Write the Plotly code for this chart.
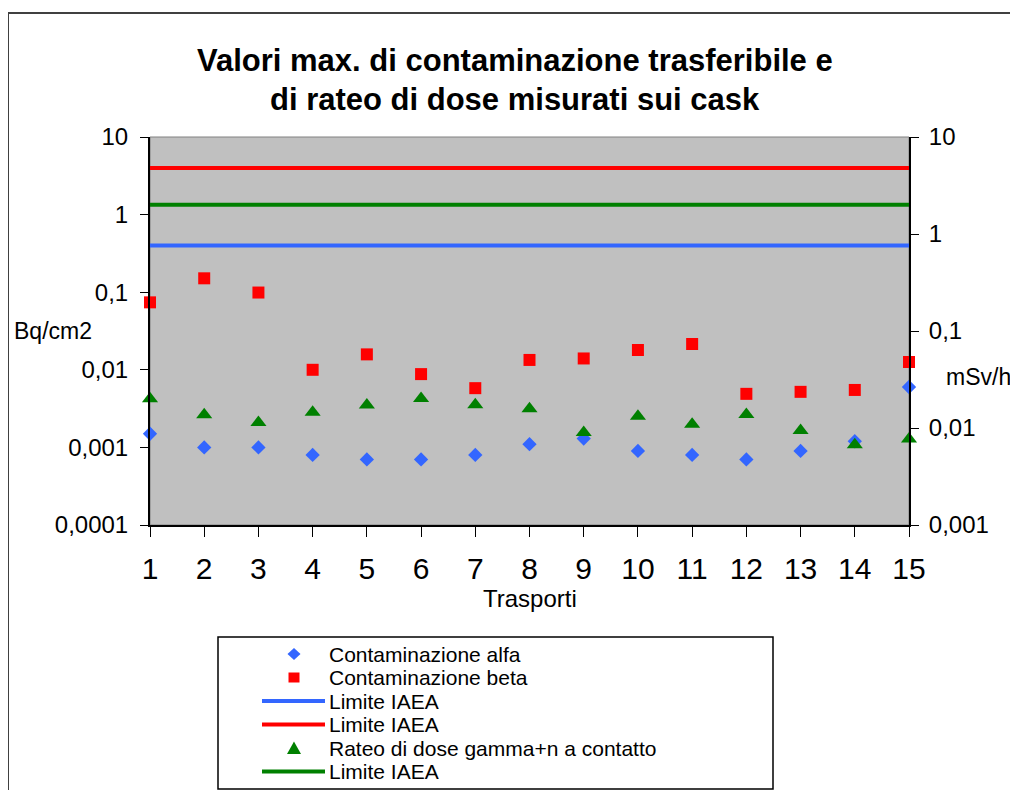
import plotly.graph_objects as go

# ---------------- data ----------------
trasporti = [1, 2, 3, 4, 5, 6, 7, 8, 9, 10, 11, 12, 13, 14, 15]
contaminazione_alfa = [0.0015, 0.0010, 0.0010, 0.0008, 0.0007, 0.0007, 0.0008, 0.0011,
                       0.0013, 0.0009, 0.0008, 0.0007, 0.0009, 0.0012, 0.0060]
contaminazione_beta = [0.074, 0.151, 0.099, 0.0100, 0.0158, 0.0088, 0.0058, 0.0134,
                       0.0140, 0.0180, 0.0215, 0.0049, 0.0052, 0.0055, 0.0126]
rateo_dose = [0.0200, 0.0137, 0.0114, 0.0145, 0.0173, 0.0202, 0.0174, 0.0158,
              0.0090, 0.0132, 0.0109, 0.0138, 0.0094, 0.0067, 0.0077]
limite_alfa = [0.4, 0.4, 0.4, 0.4, 0.4, 0.4, 0.4, 0.4, 0.4, 0.4, 0.4, 0.4, 0.4, 0.4, 0.4]
limite_beta = [4, 4, 4, 4, 4, 4, 4, 4, 4, 4, 4, 4, 4, 4, 4]
limite_dose = [2, 2, 2, 2, 2, 2, 2, 2, 2, 2, 2, 2, 2, 2, 2]

left_tickvals = [0.0001, 0.001, 0.01, 0.1, 1, 10]
left_ticktext = ["0,0001", "0,001", "0,01", "0,1", "1", "10"]
right_tickvals = [0.001, 0.01, 0.1, 1, 10]
right_ticktext = ["0,001", "0,01", "0,1", "1", "10"]

legend_labels = ["Contaminazione alfa", "Contaminazione beta", "Limite IAEA",
                 "Limite IAEA", "Rateo di dose gamma+n a contatto", "Limite IAEA"]

title_lines = ["Valori max. di contaminazione trasferibile e",
               "di rateo di dose misurati sui cask"]

BLUE = "#3366FF"
RED = "#FF0000"
GREEN = "#008000"
FONT = "Arial, Liberation Sans, sans-serif"

# page body has an 8px margin: figure pixel = screen pixel - 8
OFF = 8
W, H = 1010, 782
ML, MT = 142, 129
PW, PH = 759, 388
MR = W - ML - PW
MB = H - MT - PH


def X(px):  # screen px -> paper
    return (px - OFF - ML) / PW


def Y(py):
    return (MT + PH - (py - OFF)) / PH


fig = go.Figure()

# limit lines
fig.add_trace(go.Scatter(x=trasporti, y=limite_alfa, mode="lines", name="Limite IAEA",
                         line=dict(color=BLUE, width=4), yaxis="y", cliponaxis=False))
fig.add_trace(go.Scatter(x=trasporti, y=limite_beta, mode="lines", name="Limite IAEA",
                         line=dict(color=RED, width=4), yaxis="y", cliponaxis=False))
fig.add_trace(go.Scatter(x=trasporti, y=limite_dose, mode="lines", name="Limite IAEA",
                         line=dict(color=GREEN, width=4), yaxis="y2", cliponaxis=False))

# markers
fig.add_trace(go.Scatter(x=trasporti, y=contaminazione_alfa, mode="markers",
                         name="Contaminazione alfa", yaxis="y", cliponaxis=False,
                         marker=dict(symbol="diamond", size=11, color=BLUE, line=dict(width=0))))
fig.add_trace(go.Scatter(x=trasporti, y=contaminazione_beta, mode="markers",
                         name="Contaminazione beta", yaxis="y", cliponaxis=False,
                         marker=dict(symbol="square", size=12, color=RED, line=dict(width=0))))
fig.add_trace(go.Scatter(x=trasporti, y=rateo_dose, mode="markers",
                         name="Rateo di dose gamma+n a contatto", yaxis="y2", cliponaxis=False,
                         marker=dict(symbol="triangle-up", size=14, color=GREEN, line=dict(width=0))))

fig.update_layout(
    width=W, height=H,
    margin=dict(l=ML, r=MR, t=MT, b=MB, pad=0),
    paper_bgcolor="white",
    plot_bgcolor="#C0C0C0",
    showlegend=False,
    font=dict(family=FONT, color="black"),
    xaxis=dict(range=[1, 15], tickvals=trasporti, ticktext=[str(t) for t in trasporti],
               ticks="outside", ticklen=10, tickcolor="black", tickwidth=1,
               showline=True, linecolor="black", linewidth=2, showgrid=False, zeroline=False,
               tickfont=dict(size=30, family=FONT), ticklabelstandoff=6),
    yaxis=dict(type="log", range=[-4, 1], tickvals=left_tickvals, ticktext=left_ticktext,
               ticks="outside", ticklen=8, tickcolor="black", tickwidth=1,
               showline=True, linecolor="black", linewidth=2, showgrid=False, zeroline=False,
               tickfont=dict(size=24, family=FONT), ticklabelstandoff=7),
    yaxis2=dict(type="log", range=[-3, 1], tickvals=right_tickvals, ticktext=right_ticktext,
                overlaying="y", side="right",
                ticks="outside", ticklen=8, tickcolor="black", tickwidth=1,
                showline=True, linecolor="black", linewidth=2, showgrid=False, zeroline=False,
                tickfont=dict(size=24, family=FONT), ticklabelstandoff=5),
    yaxis3=dict(type="log", range=[-3, 1], tickvals=right_tickvals, overlaying="y", side="right",
                ticks="inside", ticklen=8, tickcolor="black", tickwidth=1,
                showticklabels=False, showline=False, showgrid=False, zeroline=False),
)

shapes = []
# plot area border (gray)
shapes.append(dict(type="rect", xref="paper", yref="paper", x0=0, x1=1, y0=0, y1=1,
                   line=dict(color="#808080", width=1), layer="below"))
# outer chart border
shapes.append(dict(type="rect", xref="paper", yref="paper", x0=X(8), x1=X(1030), y0=Y(13), y1=Y(800),
                   line=dict(color="#404040", width=2)))
# legend box
shapes.append(dict(type="rect", xref="paper", yref="paper", x0=X(218), x1=X(773), y0=Y(637), y1=Y(789),
                   line=dict(color="black", width=1.5), fillcolor="white"))

annotations = []
# title
for i, t in enumerate(title_lines):
    annotations.append(dict(text="<b>%s</b>" % t, xref="paper", yref="paper", x=X(515), y=Y(60 + 40 * i),
                            xanchor="center", yanchor="middle", showarrow=False,
                            font=dict(size=31, family=FONT)))
# axis titles
annotations.append(dict(text="Bq/cm2", xref="paper", yref="paper", x=X(12), y=Y(331),
                        xanchor="left", yanchor="middle", showarrow=False, font=dict(size=23)))
annotations.append(dict(text="mSv/h", xref="paper", yref="paper", x=X(944), y=Y(377),
                        xanchor="left", yanchor="middle", showarrow=False, font=dict(size=23)))
annotations.append(dict(text="Trasporti", xref="paper", yref="paper", x=X(530), y=Y(598),
                        xanchor="center", yanchor="middle", showarrow=False, font=dict(size=24)))

# legend entries
row_y = [654, 677.5, 701, 724.5, 748, 771.5]
sym_x = 294
for i, lab in enumerate(legend_labels):
    annotations.append(dict(text=lab, xref="paper", yref="paper", x=X(327), y=Y(row_y[i]),
                            xanchor="left", yanchor="middle", showarrow=False, font=dict(size=21)))


def path(points):
    return "M " + " L ".join("%f,%f" % (X(a), Y(b)) for a, b in points) + " Z"


cy = row_y[0]
shapes.append(dict(type="path", xref="paper", yref="paper",
                   path=path([(sym_x, cy - 6), (sym_x + 6.5, cy), (sym_x, cy + 6), (sym_x - 6.5, cy)]),
                   fillcolor=BLUE, line=dict(width=0)))
cy = row_y[1]
shapes.append(dict(type="path", xref="paper", yref="paper",
                   path=path([(sym_x - 5.5, cy - 5), (sym_x + 5.5, cy - 5), (sym_x + 5.5, cy + 5), (sym_x - 5.5, cy + 5)]),
                   fillcolor=RED, line=dict(width=0)))
cy = row_y[4]
shapes.append(dict(type="path", xref="paper", yref="paper",
                   path=path([(sym_x, cy - 6.5), (sym_x + 7, cy + 6), (sym_x - 7, cy + 6)]),
                   fillcolor=GREEN, line=dict(width=0)))
for r, col in [(2, BLUE), (3, RED), (5, GREEN)]:
    shapes.append(dict(type="line", xref="paper", yref="paper", x0=X(262), x1=X(325),
                       y0=Y(row_y[r]), y1=Y(row_y[r]), line=dict(color=col, width=4)))

fig.update_layout(shapes=shapes, annotations=annotations)

fig.write_html("out.html")
